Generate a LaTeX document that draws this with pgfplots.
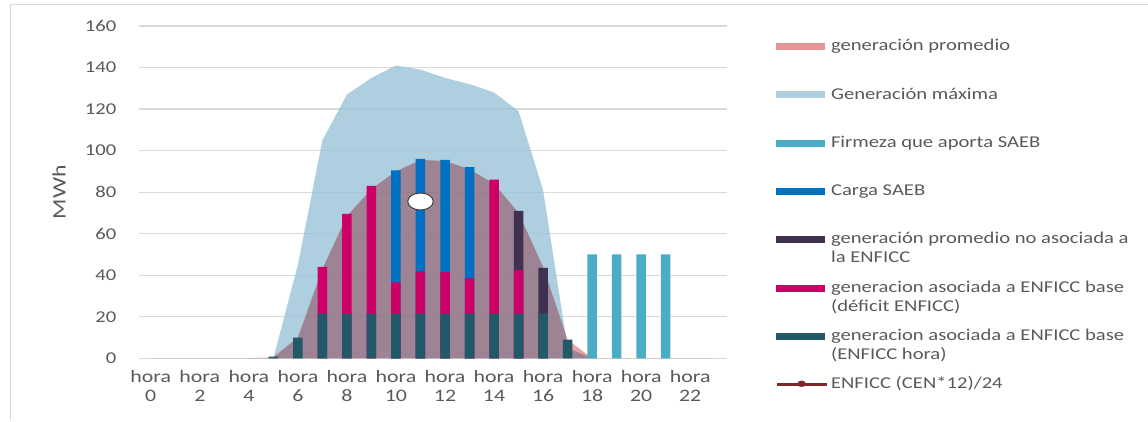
\documentclass[border=0pt]{standalone}
\usepackage{pgfplots}
\pgfplotsset{compat=1.18}
\usepackage{fontspec}
\setmainfont{Carlito}[FakeStretch=1.25]
\definecolor{txt}{RGB}{89,89,89}
\definecolor{gridc}{RGB}{217,217,217}
\definecolor{maxb}{RGB}{154,195,215}
\definecolor{maxleg}{RGB}{174,207,223}
\definecolor{prom}{RGB}{231,163,169}
\definecolor{promleg}{RGB}{230,150,150}
\definecolor{firm}{RGB}{75,172,198}
\definecolor{carga}{RGB}{0,112,192}
\definecolor{noas}{RGB}{64,49,81}
\definecolor{defi}{RGB}{204,0,102}
\definecolor{horac}{RGB}{33,89,104}
\definecolor{enf}{RGB}{128,38,38}
\newcommand{\lent}[1]{\parbox[t]{330pt}{\strut #1}}
\begin{document}
\begin{tikzpicture}
\useasboundingbox (0pt,0pt) rectangle (1148pt,421pt);
\draw[gridc, line width=1pt] (10pt,0pt) -- (10pt,416pt) -- (1148pt,416pt);
\begin{axis}[
  at={(138.5pt,62.7pt)}, anchor=south west,
  scale only axis, width=588.5pt, height=332.3pt,
  xmin=-0.5, xmax=23.5, ymin=0, ymax=160,
  ytick={0,20,...,160},
  xtick={0,2,...,22},
  xticklabels={{hora\\0},{hora\\2},{hora\\4},{hora\\6},{hora\\8},{hora\\10},{hora\\12},{hora\\14},{hora\\16},{hora\\18},{hora\\20},{hora\\22}},
  axis line style={draw=none},
  major tick style={draw=none},
  ymajorgrids, grid style={gridc, line width=1.2pt},
  tick label style={font=\fontsize{16.5}{18.5}\selectfont, text=txt},
  /pgf/number format/assume math mode=true,
  yticklabel style={anchor=east, inner sep=0pt, xshift=-22pt},
  xticklabel style={anchor=north, inner sep=0pt, yshift=-12pt, align=center, font=\fontsize{17.5}{18.5}\selectfont},
  ylabel={MWh},
  every axis y label/.style={at={(axis description cs:-0.135,0.5)}, rotate=90, anchor=center, font=\fontsize{19}{20}\selectfont, text=txt},
  legend style={at={(axis description cs:1.0816,0.9657)}, anchor=north west, draw=none, fill=none, inner sep=0pt, outer sep=0pt, font=\fontsize{16.5}{19}\selectfont, row sep=0pt, column sep=3pt, nodes={inner sep=0pt, text=txt, text height=13.3pt, text depth=35pt}, cells={anchor=base west}},
]
\addlegendimage{legend image code/.code={\fill[promleg] (0pt,1.5pt) rectangle (48pt,7.5pt);}}
\addlegendentry{\lent{generación promedio}}
\addlegendimage{legend image code/.code={\fill[maxleg] (0pt,1.5pt) rectangle (48pt,7.5pt);}}
\addlegendentry{\lent{Generación máxima}}
\addlegendimage{legend image code/.code={\fill[firm] (0pt,1.5pt) rectangle (48pt,7.5pt);}}
\addlegendentry{\lent{Firmeza que aporta SAEB}}
\addlegendimage{legend image code/.code={\fill[carga] (0pt,1.5pt) rectangle (48pt,7.5pt);}}
\addlegendentry{\lent{Carga SAEB}}
\addlegendimage{legend image code/.code={\fill[noas] (0pt,1.5pt) rectangle (48pt,7.5pt);}}
\addlegendentry{\lent{generación promedio no asociada a\\la ENFICC}}
\addlegendimage{legend image code/.code={\fill[defi] (0pt,1.5pt) rectangle (48pt,7.5pt);}}
\addlegendentry{\lent{generacion asociada a ENFICC base\\(déficit ENFICC)}}
\addlegendimage{legend image code/.code={\fill[horac] (0pt,1.5pt) rectangle (48pt,7.5pt);}}
\addlegendentry{\lent{generacion asociada a ENFICC base\\(ENFICC hora)}}
\addlegendimage{legend image code/.code={\draw[enf, line width=3pt] (0pt,4pt) -- (50pt,4pt); \fill[enf] (25pt,5pt) ellipse (4pt and 3pt);}}
\addlegendentry{\lent{ENFICC (CEN*12)/24}}

% Generación máxima
\addplot[fill=maxb, fill opacity=0.8, draw=none, forget plot] coordinates {
(0,0)(1,0)(2,0)(3,0)(4,0)(5,0)(6,45)(7,105)(8,127)(9,135)(10,141)(11,139)(12,135)(13,132)(14,128)(15,119)(16,81)(17,5)(18,0)(19,0)(20,0)(21,0)(22,0)(23,0)} \closedcycle;
% generación promedio
\addplot[fill=prom, draw=none, blend mode=multiply, forget plot] coordinates {
(0,0)(1,0)(2,0)(3,0)(4,0)(5,0.5)(6,10)(7,43)(8,68.5)(9,81.5)(10,90)(11,95.5)(12,95)(13,91)(14,84)(15,70)(16,44)(17,9)(18,0)(19,0)(20,0)(21,0)(22,0)(23,0)} \closedcycle;
% Carga SAEB (top of stack)
\addplot[ybar, bar width=9.5pt, bar shift=0pt, fill=carga, draw=none, forget plot] coordinates {(10,90.5)(11,96)(12,95.5)(13,92)};
% generación promedio no asociada (top of stack)
\addplot[ybar, bar width=9.5pt, bar shift=0pt, fill=noas, draw=none, forget plot] coordinates {(15,71)(16,43.5)};
% déficit ENFICC (top of stack)
\addplot[ybar, bar width=9.5pt, bar shift=0pt, fill=defi, draw=none, forget plot] coordinates {(7,44)(8,69.5)(9,83)(10,36.5)(11,42)(12,41.5)(13,38.5)(14,86)(15,42.5)};
% ENFICC hora
\addplot[ybar, bar width=9.5pt, bar shift=0pt, fill=horac, draw=none, forget plot] coordinates {(5,0.8)(6,10)(7,21.5)(8,21.5)(9,21.5)(10,21.5)(11,21.5)(12,21.5)(13,21.5)(14,21.5)(15,21.5)(16,21.5)(17,9)};
% Firmeza SAEB
\addplot[ybar, bar width=9.5pt, bar shift=0pt, fill=firm, draw=none, forget plot] coordinates {(18,50)(19,50)(20,50)(21,50)};
% ENFICC
\addplot[only marks, mark=*, mark size=8.5pt, mark options={fill=white, draw=black!75, line width=1pt, xscale=1.5}, forget plot] coordinates {(11,75.5)};
\end{axis}
\end{tikzpicture}
\end{document}
